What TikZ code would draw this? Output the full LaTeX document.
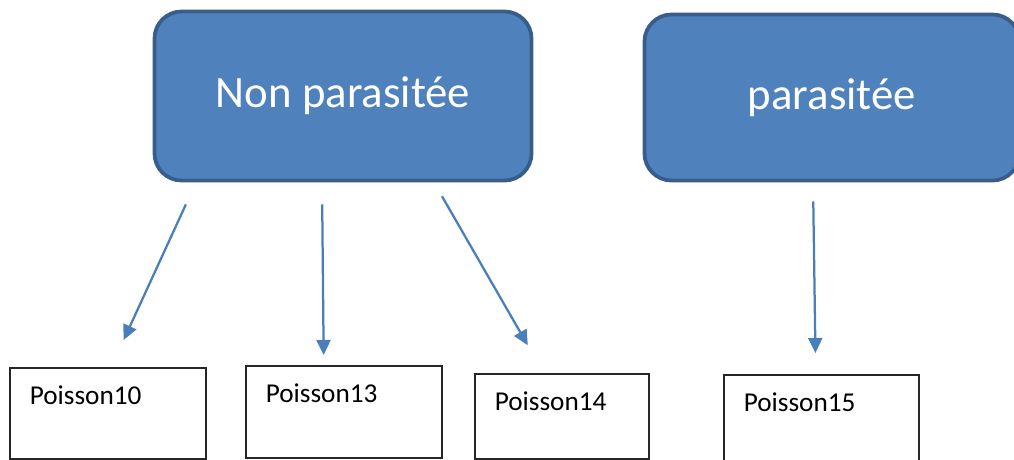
\documentclass[tikz,border=0pt]{standalone}
\usepackage{fontspec}
\setmainfont{Carlito}
\usetikzlibrary{arrows.meta,positioning}
\definecolor{boxblue}{HTML}{4F81BD}
\definecolor{boxedge}{HTML}{385D8A}
\definecolor{arrblue}{HTML}{4A7EBB}

\begin{document}
\begin{tikzpicture}[
  x=0.2mm, y=-0.2mm,
  group/.style={draw=boxedge, fill=boxblue, line width=0.75mm, rounded corners=5.4mm, minimum width=75.4mm, minimum height=33.8mm, text=white, font=\fontsize{25.5}{30}\selectfont},
  fish/.style={draw=black!85, line width=0.3mm, anchor=north west, align=left, inner xsep=4mm, inner ysep=0pt, text height=7.3mm, font=\fontsize{15.5}{18}\selectfont},
  arr/.style={-{Triangle[length=3mm, width=2.8mm]}, draw=arrblue, line width=0.45mm}
]
\useasboundingbox (0,0) rectangle (1014,459);
\clip (0,0) rectangle (1014,459);
% the two groups
\node[group] (np) at (343,96) {Non parasitée};
\node[group, minimum width=75mm, minimum height=33.2mm] (pz) at (832,97.5) {parasitée};
% the fish
\node[fish, text width=31.2mm, text depth=10.9mm] (p10) at (9,367) {Poisson10};
\node[fish, text width=31.2mm, text depth=11.1mm] (p13) at (245,365) {Poisson13};
\node[fish, text width=26.8mm, text depth=9.7mm] (p14) at (474,373) {Poisson14};
\node[fish, text width=31mm, text depth=11mm] (p15) at (723,374) {Poisson15};
\draw[arr, shorten <=4.85mm, shorten >=5.95mm] ([xshift=-29.4mm]np.south) -- ([xshift=0.7mm]p10.north);
\draw[arr, shorten <=4.4mm, shorten >=2mm] ([xshift=-4.2mm]np.south) -- ([xshift=-4mm]p13.north);
\draw[arr, shorten <=3.2mm, shorten >=6.4mm] ([xshift=18.2mm]np.south) -- ([xshift=-3.6mm]p14.north);
\draw[arr, shorten <=3.8mm, shorten >=4.2mm] ([xshift=-3.8mm]pz.south) -- ([xshift=-1.1mm]p15.north);
\end{tikzpicture}
\end{document}
